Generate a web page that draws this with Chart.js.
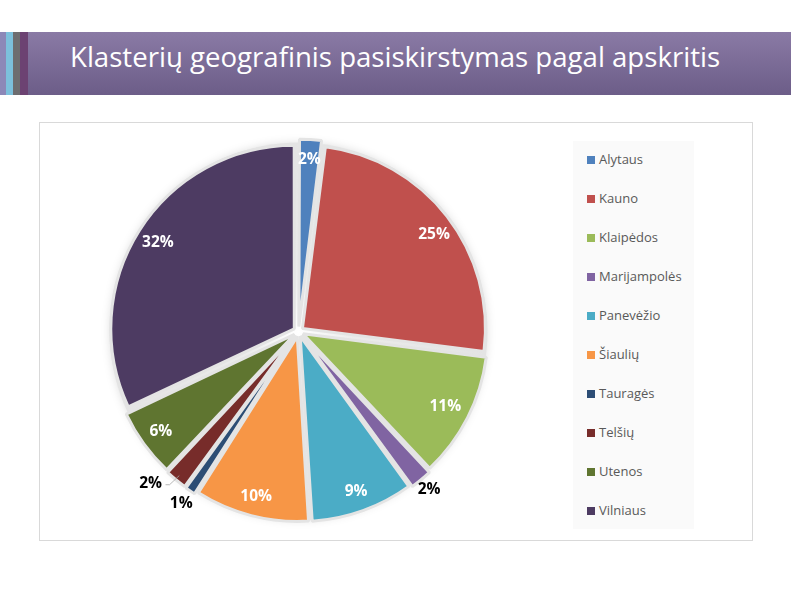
<!DOCTYPE html>
<html>
<head>
<meta charset="utf-8">
<script src="https://cdn.jsdelivr.net/npm/chart.js@4/dist/chart.umd.min.js"></script>
<style>
	html, body { margin: 0; padding: 0; background: #fff; }
	body { width: 791px; height: 593px; position: relative; overflow: hidden; font-family: "Open Sans", sans-serif; }
	.header {
		position: absolute; left: 0; top: 32px; width: 791px; height: 63px;
		background: linear-gradient(#8a7aa5, #6c5d88);
	}
	.stripe { position: absolute; top: 0; height: 63px; }
	.title {
		position: absolute; left: 70px; top: 5px; color: #fff;
		font-size: 27.6px; white-space: nowrap;
	}
	.box {
		position: absolute; left: 39px; top: 122px; width: 712px; height: 417px;
		border: 1px solid #d9d9d9; background: #fff;
	}
	#chart { position: absolute; left: 0; top: 0; }
	.legend {
		position: absolute; left: 533px; top: 18px; width: 121px; height: 388px;
		background: #fafafa;
	}
	.legend-item {
		position: absolute; left: 14px; height: 18px; line-height: 18px;
		font-size: 13px; color: #595959; white-space: nowrap;
	}
	.legend-item span {
		display: inline-block; width: 8px; height: 8px; margin-right: 4px; vertical-align: 0px;
	}
</style>
</head>
<body>
<div class="header">
	<div class="stripe" style="left:0;width:6px;background:#8c88b8"></div>
	<div class="stripe" style="left:6px;width:7px;background:#7cc0dc"></div>
	<div class="stripe" style="left:13px;width:7px;background:#6d6d70"></div>
	<div class="stripe" style="left:20px;width:8px;background:#6c4272"></div>
	<div class="title">Klasterių geografinis pasiskirstymas pagal apskritis</div>
</div>
<div class="box">
	<canvas id="chart" width="712" height="417"></canvas>
	<div class="legend" id="legend"></div>
</div>
<script>
const regions = ["Alytaus", "Kauno", "Klaipėdos", "Marijampolės", "Panevėžio", "Šiaulių", "Tauragės", "Telšių", "Utenos", "Vilniaus"];
const shares = [2, 25, 11, 2, 9, 10, 1, 2, 6, 32];
const colors = ["#4f81bd", "#c0504d", "#9bbb59", "#8064a2", "#4bacc6", "#f79646", "#2c4d75", "#772c2a", "#5f7530", "#4d3b62"];

// label placement (fraction of radius) and colour per slice
const labelRadius = [0.94, 0.91, 0.9, 1.12, 0.93, 0.93, 1.14, 1.16, 0.93, 0.91];
const labelDark = [false, false, false, true, false, false, true, true, false, false];

// legend
const legendEl = document.getElementById("legend");
regions.forEach((name, i) => {
	const item = document.createElement("div");
	item.className = "legend-item";
	item.style.top = (9 + i * 39) + "px";
	item.innerHTML = `<span style="background:${colors[i]}"></span>${name}`;
	legendEl.appendChild(item);
});

// light gray backdrop behind the exploded pie
const backdrop = {
	id: "backdrop",
	beforeDatasetsDraw(chart) {
		const arc = chart.getDatasetMeta(0).data[0];
		if (!arc) return;
		const { ctx } = chart;
		const r = arc.outerRadius + 6;
		ctx.save();
		const g = ctx.createRadialGradient(arc.x, arc.y, 0, arc.x, arc.y, r);
		g.addColorStop(0, "#ffffff");
		g.addColorStop(0.3, "#ebebeb");
		g.addColorStop(1, "#e4e4e4");
		ctx.shadowColor = "rgba(0,0,0,0.12)";
		ctx.shadowBlur = 8;
		ctx.fillStyle = g;
		ctx.beginPath();
		ctx.arc(arc.x, arc.y, r, 0, Math.PI * 2);
		ctx.fill();
		ctx.restore();
	},
};

const pctLabels = {
	id: "pctLabels",
	afterDatasetsDraw(chart) {
		const { ctx } = chart;
		const meta = chart.getDatasetMeta(0);
		ctx.save();
		ctx.font = "bold 15.5px 'Open Sans', sans-serif";
		ctx.textAlign = "center";
		ctx.textBaseline = "middle";
		meta.data.forEach((arc, i) => {
			const mid = (arc.startAngle + arc.endAngle) / 2;
			let ang = mid;
			if (i === 7) ang += 0.08; // Telšių label nudged down
			if (i === 1) ang += 0.04;
			const r = arc.outerRadius * labelRadius[i];
			const x = arc.x + Math.cos(ang) * r;
			const y = arc.y + Math.sin(ang) * r;
			if (i === 7) {
				ctx.strokeStyle = "#a6a6a6";
				ctx.lineWidth = 0.8;
				ctx.beginPath();
				ctx.moveTo(x + 15, y + 1);
				ctx.lineTo(x + 19, y + 1);
				ctx.lineTo(arc.x + Math.cos(mid) * (arc.outerRadius + 4), arc.y + Math.sin(mid) * (arc.outerRadius + 4));
				ctx.stroke();
			}
			ctx.fillStyle = labelDark[i] ? "#000000" : "#ffffff";
			ctx.fillText(shares[i] + "%", x, y);
		});
		ctx.restore();
	},
};

new Chart(document.getElementById("chart").getContext("2d"), {
	type: "pie",
	data: {
		labels: regions,
		datasets: [
			{
				data: shares,
				backgroundColor: colors,
				borderColor: "#e4e4e4",
				borderWidth: 3,
				offset: 20,
			},
		],
	},
	options: {
		responsive: false,
		animation: false,
		layout: { padding: { left: 64, top: 14, right: 259, bottom: 14 } },
		plugins: {
			legend: { display: false },
			tooltip: { enabled: false },
		},
	},
	plugins: [backdrop, pctLabels],
});
</script>
</body>
</html>
